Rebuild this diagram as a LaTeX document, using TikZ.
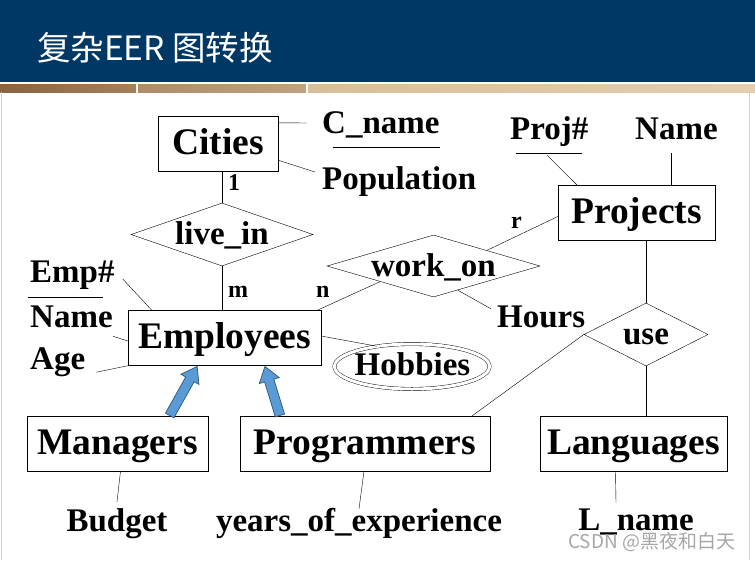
\documentclass[tikz,border=0pt]{standalone}
\usepackage{fontspec}
\setmainfont{Liberation Serif}
\newfontfamily\cjkfont{Noto Sans CJK SC}
\usetikzlibrary{shapes.geometric, shapes.arrows, calc}
\definecolor{navy}{RGB}{0,56,101}
\definecolor{isablue}{RGB}{91,155,213}
\definecolor{isaedge}{RGB}{45,85,125}
\tikzset{x=1pt, y=-1pt, % one unit is one pixel of the slide, y runs downwards
line width=0.8pt, % thin black lines everywhere
entity/.style={draw, inner sep=0pt, text height=38pt, text depth=17pt, font=\fontsize{37.5}{37.5}\selectfont\bfseries}, % entity boxes
relation/.style={diamond, draw, aspect=3, inner sep=0pt, text height=20pt, text depth=0pt, font=\fontsize{33}{33}\selectfont\bfseries}, % relationship diamonds
attr/.style={inner sep=0pt, text height=22pt, text depth=7pt, font=\fontsize{33}{33}\selectfont\bfseries}, % attribute names
card/.style={inner sep=0pt, anchor=base west, font=\fontsize{24}{24}\selectfont\bfseries}, % 1, m, n, r
multi/.style={ellipse, draw, double, double distance=3pt, inner sep=0pt}, % multivalued attribute
isa/.style={single arrow, draw=isaedge, fill=isablue, line width=0.7pt, inner sep=4.5pt, single arrow head extend=5.5pt, single arrow tip angle=70, single arrow head indent=0pt}, % subclass arrows
}
\begin{document}
\begin{tikzpicture}
    \useasboundingbox (0,0) rectangle (755,560);
    % slide title
    \fill[navy] (0,0) rectangle (755,82);
    \shade[left color={rgb,255:red,135;green,100;blue,66}, right color={rgb,255:red,165;green,128;blue,92}] (0,84) rectangle (136,92);
    \shade[left color={rgb,255:red,172;green,140;blue,106}, right color={rgb,255:red,192;green,162;blue,130}] (138,84) rectangle (306,92);
    \shade[left color={rgb,255:red,216;green,190;blue,156}, right color={rgb,255:red,228;green,206;blue,176}] (308,84) rectangle (755,92);
    \draw[gray!35] (1,92) -- (1,560) (749,92) -- (749,560);
    \node[anchor=west, inner sep=0pt, text=white, font=\cjkfont\fontsize{33.5}{33.5}\selectfont] (title) at (37,48) {复杂EER 图转换};

    % entities
    \node[entity, minimum width=120pt] (cities) at (218,143.5) {Cities};
    \node[entity, minimum width=193pt] (emp) at (224.5,338) {Employees};
    \node[entity, minimum width=157pt] (proj) at (636.5,212.5) {Projects};
    \node[entity, minimum width=181pt] (mgr) at (117.5,443.5) {Managers};
    \node[entity, minimum width=250pt] (prog) at (365,443.5) {Programmers};
    \node[entity, minimum width=187pt] (lang) at (633.5,443.5) {Languages};

    % relationships
    \node[relation, minimum width=182pt, minimum height=63pt] (livein) at (222,234.5) {live\_in};
    \node[relation, minimum width=213pt, minimum height=62pt] (workon) at (433.5,266) {work\_on};
    \node[relation, minimum width=124pt, minimum height=63pt] (use) at (646,334.5) {use};

    % attributes
    \node[attr, anchor=base west] (cname) at (322,133) {C\_name};
    \node[attr, anchor=base west] (popul) at (322,189) {Population};
    \node[attr, anchor=base west] (projno) at (510,139) {Proj\#};
    \node[attr, anchor=base west] (pname) at (635,139) {Name};
    \node[attr, anchor=base west] (empno) at (30,282) {Emp\#};
    \node[attr, anchor=base west] (ename) at (30,327) {Name};
    \node[attr, anchor=base west] (age) at (30,369) {Age};
    \node[attr, anchor=base west] (hours) at (497,327) {Hours};
    \node[multi, minimum width=155pt, minimum height=45pt] (hob) at (412,366.5) {};
    \node[attr, anchor=base] (hobbies) at (412.5,375) {Hobbies};
    \node[attr, anchor=base] (budget) at (117,531) {Budget};
    \node[attr, anchor=base] (years) at (359,531) {years\_of\_experience};
    \node[attr, anchor=base] (lname) at (636,530) {L\_name};

    % cardinalities
    \node[card] (c1) at (228,190) {1};
    \node[card] (cm) at (228,297) {m};
    \node[card] (cn) at (316,297) {n};
    \node[card] (cr) at (511,228) {r};

    % key underlines
    \draw ([xshift=11pt,yshift=-7pt]cname.south west) -- ([yshift=-7pt]cname.south east);
    \draw ([xshift=-2pt,yshift=-8pt]empno.south west) -- ([xshift=-12pt,yshift=-8pt]empno.south east);
    \draw ([xshift=6pt,yshift=-7pt]projno.south west) -- ([xshift=-7pt,yshift=-7pt]projno.south east);

    % Cities and live_in
    \draw ([yshift=-7pt]cities.north east) -- ([xshift=-15pt,yshift=2.5pt]cname.west);
    \draw ([yshift=11pt]cities.south east) -- ([xshift=-7pt,yshift=9.5pt]popul.west);
    \draw (cities.south -| livein.north) -- (livein.north);
    \draw (livein.south) -- (livein.south |- emp.north);

    % work_on
    \draw ([xshift=-4pt]emp.north east) -- (workon.south west);
    \draw (workon.north east) -- ([yshift=-4pt]proj.west);
    \draw (workon.-45) -- ([xshift=-6pt,yshift=-4pt]hours.north west);

    % Projects and use
    \draw ([xshift=19pt]proj.north west) -- ([xshift=37pt,yshift=-9pt]projno.south west);
    \draw ([xshift=-5pt,yshift=-7pt]pname.south) -- ([xshift=-5pt]pname.south |- proj.north);
    \draw (proj.south -| use.north) -- (use.north);
    \draw (use.west) -- ([xshift=-18pt]prog.north east);
    \draw (use.south) -- (use.south |- lang.north);

    % Employees
    \draw ([xshift=24pt]emp.north west) -- ([xshift=8pt,yshift=-4.5pt]empno.east);
    \draw ([yshift=-3pt]emp.west) -- ([yshift=-2pt]ename.south east);
    \draw (emp.south west) -- ([xshift=11pt,yshift=4pt]age.south east);
    \draw ([yshift=2pt]emp.east) -- (hob.150);

    % subclass attributes
    \draw ([xshift=3pt]mgr.south) -- ([yshift=7pt]budget.north);
    \draw ([xshift=-1pt]prog.south) -- (years.north);
    \draw ([xshift=-18pt]lang.south) -- ([xshift=-20pt,yshift=5pt]lname.north);

    % subclass arrows
    \coordinate (mgrtail) at ([xshift=52pt]mgr.north);
    \coordinate (mgrtip) at ([xshift=-27.5pt,yshift=-1pt]emp.south);
    \coordinate (progtail) at ([xshift=-85pt]prog.north);
    \coordinate (progtip) at ([xshift=40.5pt,yshift=-1pt]emp.south);
    \path let \p1=($(mgrtip)-(mgrtail)$), \n1={atan2(\y1,\x1)}, \n2={veclen(\x1,\y1)} in
        node[isa, rotate=\n1, minimum height=\n2, anchor=tail] (isamgr) at (mgrtail) {};
    \path let \p1=($(progtip)-(progtail)$), \n1={atan2(\y1,\x1)}, \n2={veclen(\x1,\y1)} in
        node[isa, rotate=\n1, minimum height=\n2, anchor=tail] (isaprog) at (progtail) {};

    % watermark
    \node[anchor=base west, inner sep=0pt, text=gray!70, font=\cjkfont\fontsize{19}{19}\selectfont] (mark) at (568,548) {CSDN @黑夜和白天};
\end{tikzpicture}
\end{document}
